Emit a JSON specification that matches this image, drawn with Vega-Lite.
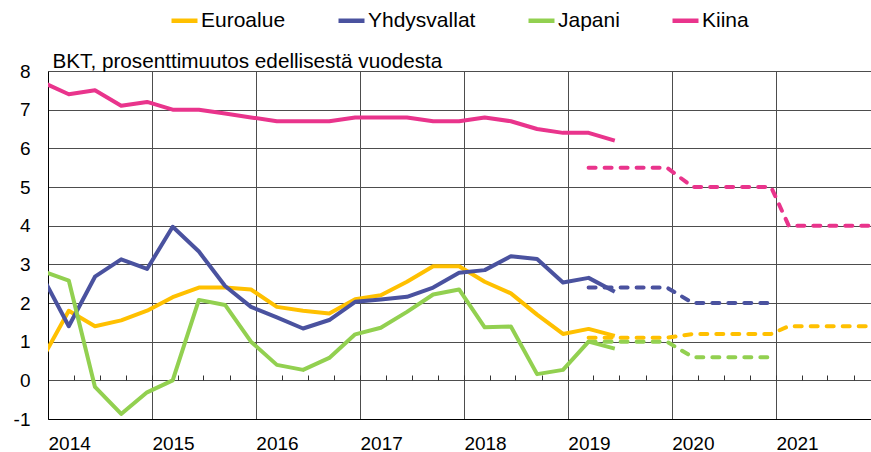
{
  "$schema": "https://vega.github.io/schema/vega-lite/v6.json",
  "width": 823,
  "height": 348,
  "autosize": "none",
  "padding": {"left": 48, "top": 71, "right": 0, "bottom": 33},
  "background": "white",
  "config": {"view": {"stroke": null}, "font": "Liberation Sans"},
  "data": {"values": [
    {"maa": "Euroalue", "pvm": "2013-12-15", "arvo": 0.6, "tyyppi": "toteutunut"},
    {"maa": "Euroalue", "pvm": "2014-03-15", "arvo": 1.8, "tyyppi": "toteutunut"},
    {"maa": "Euroalue", "pvm": "2014-06-15", "arvo": 1.4, "tyyppi": "toteutunut"},
    {"maa": "Euroalue", "pvm": "2014-09-15", "arvo": 1.55, "tyyppi": "toteutunut"},
    {"maa": "Euroalue", "pvm": "2014-12-15", "arvo": 1.8, "tyyppi": "toteutunut"},
    {"maa": "Euroalue", "pvm": "2015-03-15", "arvo": 2.15, "tyyppi": "toteutunut"},
    {"maa": "Euroalue", "pvm": "2015-06-15", "arvo": 2.4, "tyyppi": "toteutunut"},
    {"maa": "Euroalue", "pvm": "2015-09-15", "arvo": 2.4, "tyyppi": "toteutunut"},
    {"maa": "Euroalue", "pvm": "2015-12-15", "arvo": 2.35, "tyyppi": "toteutunut"},
    {"maa": "Euroalue", "pvm": "2016-03-15", "arvo": 1.9, "tyyppi": "toteutunut"},
    {"maa": "Euroalue", "pvm": "2016-06-15", "arvo": 1.8, "tyyppi": "toteutunut"},
    {"maa": "Euroalue", "pvm": "2016-09-15", "arvo": 1.73, "tyyppi": "toteutunut"},
    {"maa": "Euroalue", "pvm": "2016-12-15", "arvo": 2.1, "tyyppi": "toteutunut"},
    {"maa": "Euroalue", "pvm": "2017-03-15", "arvo": 2.2, "tyyppi": "toteutunut"},
    {"maa": "Euroalue", "pvm": "2017-06-15", "arvo": 2.55, "tyyppi": "toteutunut"},
    {"maa": "Euroalue", "pvm": "2017-09-15", "arvo": 2.95, "tyyppi": "toteutunut"},
    {"maa": "Euroalue", "pvm": "2017-12-15", "arvo": 2.95, "tyyppi": "toteutunut"},
    {"maa": "Euroalue", "pvm": "2018-03-15", "arvo": 2.55, "tyyppi": "toteutunut"},
    {"maa": "Euroalue", "pvm": "2018-06-15", "arvo": 2.25, "tyyppi": "toteutunut"},
    {"maa": "Euroalue", "pvm": "2018-09-15", "arvo": 1.7, "tyyppi": "toteutunut"},
    {"maa": "Euroalue", "pvm": "2018-12-15", "arvo": 1.2, "tyyppi": "toteutunut"},
    {"maa": "Euroalue", "pvm": "2019-03-15", "arvo": 1.33, "tyyppi": "toteutunut"},
    {"maa": "Euroalue", "pvm": "2019-06-15", "arvo": 1.15, "tyyppi": "toteutunut"},
    {"maa": "Yhdysvallat", "pvm": "2013-12-15", "arvo": 2.65, "tyyppi": "toteutunut"},
    {"maa": "Yhdysvallat", "pvm": "2014-03-15", "arvo": 1.4, "tyyppi": "toteutunut"},
    {"maa": "Yhdysvallat", "pvm": "2014-06-15", "arvo": 2.68, "tyyppi": "toteutunut"},
    {"maa": "Yhdysvallat", "pvm": "2014-09-15", "arvo": 3.13, "tyyppi": "toteutunut"},
    {"maa": "Yhdysvallat", "pvm": "2014-12-15", "arvo": 2.88, "tyyppi": "toteutunut"},
    {"maa": "Yhdysvallat", "pvm": "2015-03-15", "arvo": 3.97, "tyyppi": "toteutunut"},
    {"maa": "Yhdysvallat", "pvm": "2015-06-15", "arvo": 3.33, "tyyppi": "toteutunut"},
    {"maa": "Yhdysvallat", "pvm": "2015-09-15", "arvo": 2.44, "tyyppi": "toteutunut"},
    {"maa": "Yhdysvallat", "pvm": "2015-12-15", "arvo": 1.9, "tyyppi": "toteutunut"},
    {"maa": "Yhdysvallat", "pvm": "2016-03-15", "arvo": 1.63, "tyyppi": "toteutunut"},
    {"maa": "Yhdysvallat", "pvm": "2016-06-15", "arvo": 1.34, "tyyppi": "toteutunut"},
    {"maa": "Yhdysvallat", "pvm": "2016-09-15", "arvo": 1.56, "tyyppi": "toteutunut"},
    {"maa": "Yhdysvallat", "pvm": "2016-12-15", "arvo": 2.03, "tyyppi": "toteutunut"},
    {"maa": "Yhdysvallat", "pvm": "2017-03-15", "arvo": 2.09, "tyyppi": "toteutunut"},
    {"maa": "Yhdysvallat", "pvm": "2017-06-15", "arvo": 2.16, "tyyppi": "toteutunut"},
    {"maa": "Yhdysvallat", "pvm": "2017-09-15", "arvo": 2.4, "tyyppi": "toteutunut"},
    {"maa": "Yhdysvallat", "pvm": "2017-12-15", "arvo": 2.78, "tyyppi": "toteutunut"},
    {"maa": "Yhdysvallat", "pvm": "2018-03-15", "arvo": 2.85, "tyyppi": "toteutunut"},
    {"maa": "Yhdysvallat", "pvm": "2018-06-15", "arvo": 3.21, "tyyppi": "toteutunut"},
    {"maa": "Yhdysvallat", "pvm": "2018-09-15", "arvo": 3.14, "tyyppi": "toteutunut"},
    {"maa": "Yhdysvallat", "pvm": "2018-12-15", "arvo": 2.53, "tyyppi": "toteutunut"},
    {"maa": "Yhdysvallat", "pvm": "2019-03-15", "arvo": 2.65, "tyyppi": "toteutunut"},
    {"maa": "Yhdysvallat", "pvm": "2019-06-15", "arvo": 2.29, "tyyppi": "toteutunut"},
    {"maa": "Japani", "pvm": "2013-12-15", "arvo": 2.82, "tyyppi": "toteutunut"},
    {"maa": "Japani", "pvm": "2014-03-15", "arvo": 2.58, "tyyppi": "toteutunut"},
    {"maa": "Japani", "pvm": "2014-06-15", "arvo": -0.17, "tyyppi": "toteutunut"},
    {"maa": "Japani", "pvm": "2014-09-15", "arvo": -0.87, "tyyppi": "toteutunut"},
    {"maa": "Japani", "pvm": "2014-12-15", "arvo": -0.31, "tyyppi": "toteutunut"},
    {"maa": "Japani", "pvm": "2015-03-15", "arvo": 0.0, "tyyppi": "toteutunut"},
    {"maa": "Japani", "pvm": "2015-06-15", "arvo": 2.08, "tyyppi": "toteutunut"},
    {"maa": "Japani", "pvm": "2015-09-15", "arvo": 1.95, "tyyppi": "toteutunut"},
    {"maa": "Japani", "pvm": "2015-12-15", "arvo": 1.0, "tyyppi": "toteutunut"},
    {"maa": "Japani", "pvm": "2016-03-15", "arvo": 0.4, "tyyppi": "toteutunut"},
    {"maa": "Japani", "pvm": "2016-06-15", "arvo": 0.27, "tyyppi": "toteutunut"},
    {"maa": "Japani", "pvm": "2016-09-15", "arvo": 0.58, "tyyppi": "toteutunut"},
    {"maa": "Japani", "pvm": "2016-12-15", "arvo": 1.19, "tyyppi": "toteutunut"},
    {"maa": "Japani", "pvm": "2017-03-15", "arvo": 1.36, "tyyppi": "toteutunut"},
    {"maa": "Japani", "pvm": "2017-06-15", "arvo": 1.77, "tyyppi": "toteutunut"},
    {"maa": "Japani", "pvm": "2017-09-15", "arvo": 2.22, "tyyppi": "toteutunut"},
    {"maa": "Japani", "pvm": "2017-12-15", "arvo": 2.35, "tyyppi": "toteutunut"},
    {"maa": "Japani", "pvm": "2018-03-15", "arvo": 1.37, "tyyppi": "toteutunut"},
    {"maa": "Japani", "pvm": "2018-06-15", "arvo": 1.39, "tyyppi": "toteutunut"},
    {"maa": "Japani", "pvm": "2018-09-15", "arvo": 0.16, "tyyppi": "toteutunut"},
    {"maa": "Japani", "pvm": "2018-12-15", "arvo": 0.27, "tyyppi": "toteutunut"},
    {"maa": "Japani", "pvm": "2019-03-15", "arvo": 1.0, "tyyppi": "toteutunut"},
    {"maa": "Japani", "pvm": "2019-06-15", "arvo": 0.82, "tyyppi": "toteutunut"},
    {"maa": "Kiina", "pvm": "2013-12-15", "arvo": 7.7, "tyyppi": "toteutunut"},
    {"maa": "Kiina", "pvm": "2014-03-15", "arvo": 7.4, "tyyppi": "toteutunut"},
    {"maa": "Kiina", "pvm": "2014-06-15", "arvo": 7.5, "tyyppi": "toteutunut"},
    {"maa": "Kiina", "pvm": "2014-09-15", "arvo": 7.1, "tyyppi": "toteutunut"},
    {"maa": "Kiina", "pvm": "2014-12-15", "arvo": 7.2, "tyyppi": "toteutunut"},
    {"maa": "Kiina", "pvm": "2015-03-15", "arvo": 7.0, "tyyppi": "toteutunut"},
    {"maa": "Kiina", "pvm": "2015-06-15", "arvo": 7.0, "tyyppi": "toteutunut"},
    {"maa": "Kiina", "pvm": "2015-09-15", "arvo": 6.9, "tyyppi": "toteutunut"},
    {"maa": "Kiina", "pvm": "2015-12-15", "arvo": 6.8, "tyyppi": "toteutunut"},
    {"maa": "Kiina", "pvm": "2016-03-15", "arvo": 6.7, "tyyppi": "toteutunut"},
    {"maa": "Kiina", "pvm": "2016-06-15", "arvo": 6.7, "tyyppi": "toteutunut"},
    {"maa": "Kiina", "pvm": "2016-09-15", "arvo": 6.7, "tyyppi": "toteutunut"},
    {"maa": "Kiina", "pvm": "2016-12-15", "arvo": 6.8, "tyyppi": "toteutunut"},
    {"maa": "Kiina", "pvm": "2017-03-15", "arvo": 6.8, "tyyppi": "toteutunut"},
    {"maa": "Kiina", "pvm": "2017-06-15", "arvo": 6.8, "tyyppi": "toteutunut"},
    {"maa": "Kiina", "pvm": "2017-09-15", "arvo": 6.7, "tyyppi": "toteutunut"},
    {"maa": "Kiina", "pvm": "2017-12-15", "arvo": 6.7, "tyyppi": "toteutunut"},
    {"maa": "Kiina", "pvm": "2018-03-15", "arvo": 6.8, "tyyppi": "toteutunut"},
    {"maa": "Kiina", "pvm": "2018-06-15", "arvo": 6.7, "tyyppi": "toteutunut"},
    {"maa": "Kiina", "pvm": "2018-09-15", "arvo": 6.5, "tyyppi": "toteutunut"},
    {"maa": "Kiina", "pvm": "2018-12-15", "arvo": 6.4, "tyyppi": "toteutunut"},
    {"maa": "Kiina", "pvm": "2019-03-15", "arvo": 6.4, "tyyppi": "toteutunut"},
    {"maa": "Kiina", "pvm": "2019-06-15", "arvo": 6.2, "tyyppi": "toteutunut"},
    {"maa": "Euroalue", "pvm": "2019-03-15", "arvo": 1.1, "tyyppi": "ennuste"},
    {"maa": "Euroalue", "pvm": "2019-12-15", "arvo": 1.1, "tyyppi": "ennuste"},
    {"maa": "Euroalue", "pvm": "2020-03-15", "arvo": 1.2, "tyyppi": "ennuste"},
    {"maa": "Euroalue", "pvm": "2020-12-15", "arvo": 1.2, "tyyppi": "ennuste"},
    {"maa": "Euroalue", "pvm": "2021-02-15", "arvo": 1.4, "tyyppi": "ennuste"},
    {"maa": "Euroalue", "pvm": "2021-12-15", "arvo": 1.4, "tyyppi": "ennuste"},
    {"maa": "Yhdysvallat", "pvm": "2019-03-15", "arvo": 2.4, "tyyppi": "ennuste"},
    {"maa": "Yhdysvallat", "pvm": "2019-12-15", "arvo": 2.4, "tyyppi": "ennuste"},
    {"maa": "Yhdysvallat", "pvm": "2020-03-15", "arvo": 2.0, "tyyppi": "ennuste"},
    {"maa": "Yhdysvallat", "pvm": "2020-12-15", "arvo": 2.0, "tyyppi": "ennuste"},
    {"maa": "Japani", "pvm": "2019-03-15", "arvo": 1.0, "tyyppi": "ennuste"},
    {"maa": "Japani", "pvm": "2019-12-15", "arvo": 1.0, "tyyppi": "ennuste"},
    {"maa": "Japani", "pvm": "2020-03-15", "arvo": 0.6, "tyyppi": "ennuste"},
    {"maa": "Japani", "pvm": "2020-12-15", "arvo": 0.6, "tyyppi": "ennuste"},
    {"maa": "Kiina", "pvm": "2019-03-15", "arvo": 5.5, "tyyppi": "ennuste"},
    {"maa": "Kiina", "pvm": "2019-12-15", "arvo": 5.5, "tyyppi": "ennuste"},
    {"maa": "Kiina", "pvm": "2020-03-15", "arvo": 5.0, "tyyppi": "ennuste"},
    {"maa": "Kiina", "pvm": "2020-12-15", "arvo": 5.0, "tyyppi": "ennuste"},
    {"maa": "Kiina", "pvm": "2021-02-15", "arvo": 4.0, "tyyppi": "ennuste"},
    {"maa": "Kiina", "pvm": "2021-12-15", "arvo": 4.0, "tyyppi": "ennuste"}
  ]},
  "encoding": {
    "y": {"field": "arvo", "type": "quantitative",
      "scale": {"domain": [-1, 8], "nice": false, "zero": false},
      "axis": {"title": "BKT, prosenttimuutos edellisestä vuodesta", "titleAngle": 0, "titleX": 4, "titleY": -4, "titleAlign": "left", "titleBaseline": "alphabetic", "titleFontSize": 20.7, "titleFontWeight": "normal", "titleColor": "#000", "titleFont": "Liberation Sans",
        "values": [-1, 0, 1, 2, 3, 4, 5, 6, 7, 8], "labelExpr": "'' + datum.value", "grid": true, "gridColor": "#4d4d4d", "gridWidth": 1, "ticks": false, "domain": true, "domainColor": "#000", "labelFontSize": 19, "labelPadding": 18, "labelColor": "#000", "labelFont": "Liberation Sans"}},
    "color": {"field": "maa", "type": "nominal",
      "scale": {"domain": ["Euroalue", "Yhdysvallat", "Japani", "Kiina"], "range": ["#FFC000", "#4A529F", "#92D050", "#E9348C"]},
      "legend": {"orient": "none", "legendX": 121, "legendY": -66, "direction": "horizontal", "title": null, "symbolType": "stroke", "symbolStrokeWidth": 4.5, "symbolSize": 676, "symbolDash": [100, 0], "labelFontSize": 21, "labelFont": "Liberation Sans", "labelColor": "#000", "columnPadding": 43, "labelOffset": 1}}
  },
  "layer": [
    {"transform": [{"filter": "datum.tyyppi == 'toteutunut'"}],
     "mark": {"type": "line", "strokeWidth": 4, "strokeJoin": "round", "clip": true},
     "encoding": {"x": {"field": "pvm", "type": "temporal",
        "scale": {"type": "utc", "domain": [{"year": 2014, "month": 1, "date": 1, "utc": true}, {"year": 2021, "month": 12, "date": 1, "utc": true}]},
        "axis": {"orient": "bottom", "title": null, "tickCount": {"interval": "year", "step": 1}, "grid": true, "gridColor": "#4d4d4d", "gridWidth": 1, "ticks": false, "domain": true, "domainColor": "#000", "labelExpr": "utcFormat(datum.value, '%Y')", "labelAlign": "left", "labelFontSize": 19, "labelPadding": 15, "labelOverlap": false, "labelFlush": false, "labelBound": false, "labelColor": "#000", "labelFont": "Liberation Sans"}}}},
    {"transform": [{"filter": "datum.tyyppi == 'ennuste'"}],
     "mark": {"type": "line", "strokeWidth": 4, "strokeDash": [7, 9], "strokeCap": "round", "strokeJoin": "round", "clip": true},
     "encoding": {"x": {"field": "pvm", "type": "temporal",
        "scale": {"type": "utc", "domain": [{"year": 2014, "month": 1, "date": 1, "utc": true}, {"year": 2021, "month": 12, "date": 1, "utc": true}]},
        "axis": {"orient": "top", "offset": -309, "title": null, "labels": false, "grid": false, "domain": false, "ticks": true, "tickSize": 5, "tickColor": "#333", "tickCount": {"interval": "month", "step": 3}}}}}
  ],
  "resolve": {"axis": {"x": "independent"}}
}
